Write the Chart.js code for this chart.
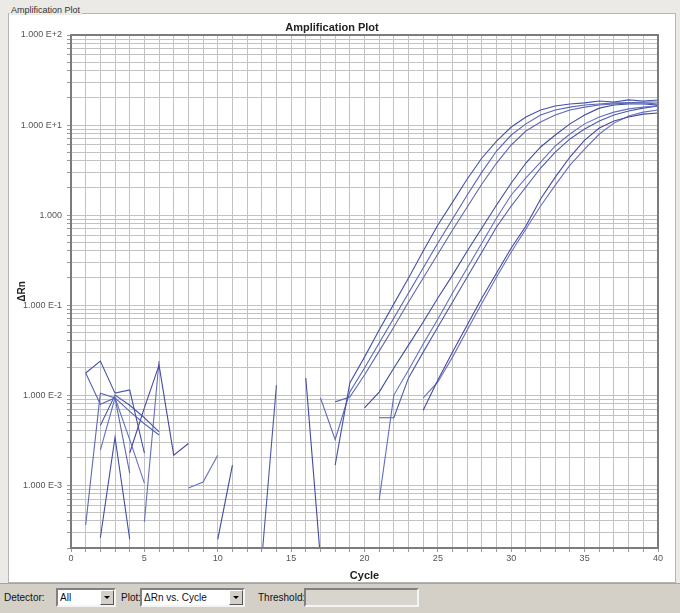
<!DOCTYPE html>
<html>
<head>
<meta charset="utf-8">
<script src="https://cdn.jsdelivr.net/npm/chart.js@4"></script>
<style>
  body { margin: 0; width: 680px; height: 613px; background: #ebeae7; position: relative; overflow: hidden;
         font-family: "Liberation Sans", Arial, sans-serif; }
  #panel { position: absolute; left: 8px; top: 13px; width: 668px; height: 570px; background: #fff;
           border: 1px solid #b5b5b5; box-sizing: border-box; }
  #group { position: absolute; left: 9px; top: 5px; font-size: 9px; color: #333; background: #ebeae7; padding: 0 2px; }
  #wrap { position: absolute; left: 6px; top: 10px; width: 668px; height: 573px; }
  #bar { position: absolute; left: 0; top: 583px; width: 680px; height: 30px; background: #d4d0c8;
         border-top: 1px solid #a8a49c; box-sizing: border-box; font-size: 10px; color: #111; }
  .lbl { position: absolute; top: 8px; }
  .sel { position: absolute; top: 4px; height: 19px; background: #fff; box-sizing: border-box;
         border: 2px solid; border-color: #808080 #f4f4f4 #f4f4f4 #808080; }
  .sel span { position: absolute; left: 2px; top: 2px; }
  .btn { position: absolute; right: 0; top: 0; width: 14px; height: 15px; background: #d4d0c8; box-sizing: border-box;
         border: 1px solid; border-color: #fff #555 #555 #fff; }
  .btn:after { content: ""; position: absolute; left: 3px; top: 5px; border-left: 3px solid transparent;
               border-right: 3px solid transparent; border-top: 3px solid #000; }
  .field { position: absolute; top: 4px; height: 19px; background: #d8d5ce; box-sizing: border-box;
           border: 2px solid; border-color: #808080 #f4f4f4 #f4f4f4 #808080; }
</style>
</head>
<body>
<div id="panel"></div>
<div id="group">Amplification Plot</div>
<div id="wrap"><canvas id="chart" width="668" height="573"></canvas></div>
<div id="bar">
  <div class="lbl" style="left:4px">Detector:</div>
  <div class="sel" style="left:56px;width:60px"><span>All</span><div class="btn"></div></div>
  <div class="lbl" style="left:121px">Plot:</div>
  <div class="sel" style="left:140px;width:105px"><span>ΔRn vs. Cycle</span><div class="btn"></div></div>
  <div class="lbl" style="left:258px">Threshold:</div>
  <div class="field" style="left:304px;width:115px"></div>
</div>
<script>
// cycle numbers (x)
const cycles = [1, 2, 3, 4, 5, 6, 7, 8, 9, 10, 11, 12, 13, 14, 15, 16, 17, 18, 19, 20,
                21, 22, 23, 24, 25, 26, 27, 28, 29, 30, 31, 32, 33, 34, 35, 36, 37, 38, 39, 40];

// ΔRn per well, cycles 1..40 (null = negative, not shown on log axis)
const wellA1 = [0.0176, 0.0239, 0.0105, 0.0114, 0.00227, null, null, null, null, null,
                null, null, null, null, null, null, null, 0.00167, 0.0136, 0.0264,
                0.0528, 0.103, 0.2, 0.398, 0.774, 1.39, 2.51, 4.3, 6.64, 9.5,
                12.3, 14.7, 16.3, 17.1, 17.6, 18.5, 18.0, 19.0, 18.5, 19.0];
const wellA2 = [0.0176, 0.0079, 0.0093, 0.0066, 0.0048, 0.0036, null, null, null, null,
                null, null, null, null, null, null, 0.0093, 0.0032, 0.0108, 0.02,
                0.0378, 0.0717, 0.136, 0.258, 0.489, 0.903, 1.67, 3.0, 5.14, 7.74,
                10.3, 12.9, 14.7, 15.8, 16.7, 17.1, 17.6, 17.6, 18.0, 18.0];
const wellA3 = [0.00036, 0.0105, 0.0093, 0.00136, null, null, null, null, null, null,
                null, null, null, null, null, null, null, 0.0084, 0.0095, 0.0167,
                0.0308, 0.057, 0.108, 0.2, 0.369, 0.681, 1.23, 2.21, 3.78, 6.0,
                8.58, 10.8, 12.9, 14.7, 15.8, 16.7, 17.1, 17.6, 17.6, 17.1];
const wellB1 = [null, 0.00026, 0.0034, 0.00025, null, null, null, null, null, 0.00025,
                0.00167, null, null, null, null, null, null, null, null, 0.0072,
                0.0108, 0.02, 0.0359, 0.0647, 0.12, 0.215, 0.398, 0.717, 1.29, 2.27,
                3.78, 5.7, 7.74, 10.3, 12.9, 15.4, 16.7, 17.1, 17.1, 16.7];
const wellB2 = [null, 0.00245, 0.0093, 0.0032, 0.00105, null, null, 0.00093, 0.00108, 0.00215,
                null, null, null, null, null, null, null, null, null, null,
                0.00068, 0.01, 0.019, 0.0369, 0.0699, 0.136, 0.258, 0.489, 0.926, 1.67,
                2.58, 3.88, 5.85, 7.94, 10.3, 12.3, 13.9, 15.1, 15.8, 16.3];
const wellB3 = [null, 0.0046, 0.01, 0.0077, 0.0056, 0.0039, null, null, null, null,
                null, null, 0.00015, 0.0129, null, null, null, null, null, null,
                0.0056, 0.0056, 0.0155, 0.03, 0.057, 0.108, 0.205, 0.388, 0.736, 1.26,
                2.05, 3.33, 5.01, 7.0, 9.03, 11.1, 12.9, 14.3, 15.4, 16.3];
const wellC1 = [null, null, null, 0.00227, 0.0072, 0.0215, 0.00215, 0.0029, null, null,
                null, null, null, null, null, 0.0155, 0.00015, null, null, null,
                null, null, null, 0.0068, 0.0147, 0.03, 0.0599, 0.12, 0.227, 0.43,
                0.755, 1.51, 2.64, 4.41, 6.81, 9.26, 11.1, 12.3, 13.2, 13.6];
const wellC2 = [null, null, null, null, 0.00039, 0.0239, null, null, null, null,
                null, null, null, null, null, null, null, null, null, null,
                null, null, null, 0.0093, 0.014, 0.0264, 0.0528, 0.105, 0.205, 0.388,
                0.699, 1.26, 2.15, 3.59, 5.41, 7.94, 10.5, 12.6, 13.9, 14.7];

const wells = [wellA1, wellA2, wellA3, wellB1, wellB2, wellB3, wellC1, wellC2];
const wellColors = ['#4553a8', '#5864b8', '#5f68ad', '#3f4d9f', '#6270c4', '#4d59a8', '#4649a3', '#6870ba'];

// y axis: decade labels and minor grid multiples
const yDecades = [1e-3, 1e-2, 1e-1, 1, 10, 100];
const yDecadeLabels = ['1.000 E-3', '1.000 E-2', '1.000 E-1', '1.000', '1.000 E+1', '1.000 E+2'];
const yMultiples = [1, 2, 3, 4, 5, 6, 7, 8, 9];
const yMin = 2e-4, yMax = 100;

const yGrid = [];
for (let e = -4; e <= 2; e++) {
  yMultiples.forEach(m => {
    const v = Number((m * Math.pow(10, e)).toPrecision(6));
    if (v >= yMin && v <= yMax) yGrid.push(v);
  });
}

const datasets = wells.map((w, i) => ({
  data: w.map((v, j) => ({ x: cycles[j], y: v })),
  borderColor: wellColors[i],
  borderWidth: 1.1,
  pointRadius: 0,
  tension: 0,
  spanGaps: false
}));

// dark frame round the plot area
const frame = {
  id: 'frame',
  afterDraw(chart) {
    const { ctx, chartArea: a } = chart;
    ctx.save();
    ctx.strokeStyle = '#7c7c7c';
    ctx.lineWidth = 2;
    ctx.strokeRect(a.left, a.top, a.right - a.left, a.bottom - a.top);
    ctx.restore();
  }
};

const tickFont = { family: '"Liberation Sans", Arial, sans-serif', size: 9 };

new Chart(document.getElementById('chart'), {
  type: 'line',
  data: { datasets },
  plugins: [frame],
  options: {
    responsive: false,
    animation: false,
    layout: { padding: { left: 0, right: 16, top: 0, bottom: 0 } },
    plugins: {
      legend: { display: false },
      tooltip: { enabled: false },
      title: {
        display: true,
        text: 'Amplification Plot',
        color: '#222',
        font: { family: '"Liberation Sans", Arial, sans-serif', size: 11, weight: 'bold' },
        padding: { top: 11.8, bottom: 0 }
      }
    },
    scales: {
      x: {
        type: 'linear',
        min: 0,
        max: 40,
        afterFit: (s) => { s.height = 35; },
        ticks: {
          stepSize: 1,
          autoSkip: false,
          maxRotation: 0,
          padding: 1,
          color: '#555',
          font: tickFont,
          callback: (v) => (v % 5 === 0 ? String(v) : '')
        },
        grid: { color: '#c2c2c2', tickLength: 4, tickColor: '#999' },
        border: { color: '#7c7c7c', width: 2 },
        title: {
          display: true,
          text: 'Cycle',
          color: '#222',
          font: { family: '"Liberation Sans", Arial, sans-serif', size: 11, weight: 'bold' },
          padding: { top: 0, bottom: 0 }
        }
      },
      y: {
        type: 'logarithmic',
        min: yMin,
        max: yMax,
        afterFit: (s) => { s.width = 65; },
        afterBuildTicks: (s) => { s.ticks = yGrid.map(v => ({ value: v })); },
        ticks: {
          autoSkip: false,
          padding: 5,
          color: '#555',
          font: tickFont,
          callback: (v) => {
            const k = yDecades.findIndex(d => Math.abs(Math.log10(d) - Math.log10(v)) < 1e-6);
            return k >= 0 ? yDecadeLabels[k] : '';
          }
        },
        grid: { color: '#c2c2c2', tickLength: 4, tickColor: '#999' },
        border: { color: '#7c7c7c', width: 2 },
        title: {
          display: true,
          text: 'ΔRn',
          color: '#222',
          font: { family: '"Liberation Sans", Arial, sans-serif', size: 10, weight: 'bold' },
          padding: { top: 10, bottom: 0 }
        }
      }
    }
  }
});
</script>
</body>
</html>
